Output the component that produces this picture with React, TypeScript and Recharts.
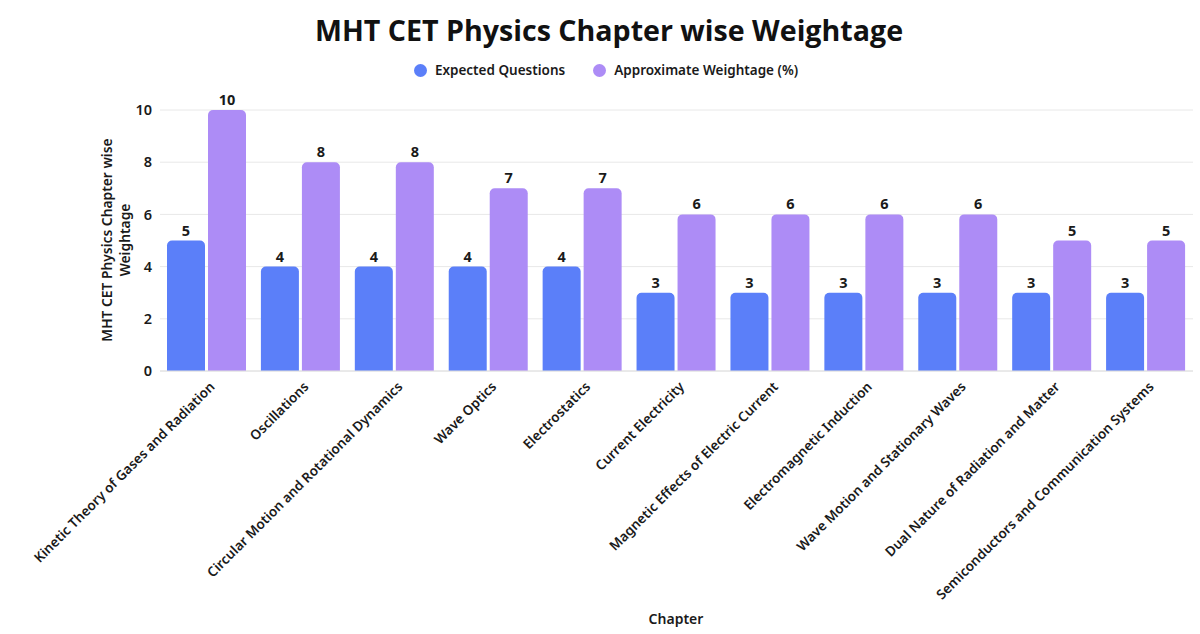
import React from "react"
import {
  BarChart,
  Bar,
  XAxis,
  YAxis,
  CartesianGrid,
  LabelList,
} from "recharts"

const chapters = [
  "Kinetic Theory of Gases and Radiation",
  "Oscillations",
  "Circular Motion and Rotational Dynamics",
  "Wave Optics",
  "Electrostatics",
  "Current Electricity",
  "Magnetic Effects of Electric Current",
  "Electromagnetic Induction",
  "Wave Motion and Stationary Waves",
  "Dual Nature of Radiation and Matter",
  "Semiconductors and Communication Systems",
]

const expectedQuestions = [5, 4, 4, 4, 4, 3, 3, 3, 3, 3, 3]
const approxWeightage = [10, 8, 8, 7, 7, 6, 6, 6, 6, 5, 5]
const yTicks = [0, 2, 4, 6, 8, 10]

const BLUE = "#5b7ff9"
const PURPLE = "#ad8cf6"
const FONT = "'Noto Sans', 'Open Sans', sans-serif"

const data = chapters.map((name, i) => ({
  name,
  expected: expectedQuestions[i],
  weightage: approxWeightage[i],
}))

function ChapterTick({ x, y, payload }: { x?: number; y?: number; payload?: { value: string } }) {
  const tx = (x ?? 0) + 6
  const ty = (y ?? 0) + 6
  return (
    <text
      x={tx}
      y={ty}
      transform={`rotate(-45, ${tx}, ${ty})`}
      textAnchor="end"
      dominantBaseline="middle"
      fontSize={13.5}
      fontWeight={600}
      fill="#1a1a1a"
      fontFamily={FONT}
    >
      {payload?.value}
    </text>
  )
}

function LegendRow() {
  const items = [
    { label: "Expected Questions", color: BLUE },
    { label: "Approximate Weightage (%)", color: PURPLE },
  ]
  return (
    <div
      style={{
        position: "absolute",
        top: 61,
        left: 0,
        width: 1212,
        display: "flex",
        justifyContent: "center",
        gap: 28,
        fontFamily: FONT,
      }}
    >
      {items.map((it) => (
        <div key={it.label} style={{ display: "flex", alignItems: "center", gap: 8 }}>
          <span style={{ width: 13, height: 13, borderRadius: "50%", background: it.color, display: "inline-block" }} />
          <span style={{ fontSize: 13.5, fontWeight: 600, color: "#1a1a1a" }}>{it.label}</span>
        </div>
      ))}
    </div>
  )
}

const valueLabel = { fontSize: 14.5, fontWeight: 700, fill: "#1a1a1a", fontFamily: FONT }

export default function App() {
  return (
    <div style={{ position: "absolute", top: 0, left: 0, width: 1200, height: 634, background: "#fff" }}>
      <div
        style={{
          position: "absolute",
          top: 10,
          left: 0,
          width: 1218,
          textAlign: "center",
          fontFamily: "'Open Sans', sans-serif",
          fontWeight: 700,
          fontSize: 28.6,
          color: "#111",
        }}
      >
        MHT CET Physics Chapter wise Weightage
      </div>
      <LegendRow />
      <BarChart
        width={1200}
        height={634}
        data={data}
        margin={{ top: 110, right: 7, left: 100, bottom: 0 }}
        barCategoryGap={7}
        barGap={3}
      >
        <CartesianGrid vertical={false} stroke="#e8e8e8" />
        <XAxis
          dataKey="name"
          interval={0}
          height={263}
          tick={<ChapterTick />}
          tickLine={false}
          axisLine={{ stroke: "#e0e0e0" }}
        />
        <YAxis
          width={60}
          domain={[0, 10]}
          ticks={yTicks}
          tickLine={false}
          axisLine={false}
          tick={{ fontSize: 14.5, fontWeight: 600, fill: "#1a1a1a", fontFamily: FONT }}
        />
        <Bar dataKey="expected" name="Expected Questions" fill={BLUE} radius={[5, 5, 0, 0]} isAnimationActive={false}>
          <LabelList dataKey="expected" position="top" offset={5} style={valueLabel} />
        </Bar>
        <Bar dataKey="weightage" name="Approximate Weightage (%)" fill={PURPLE} radius={[5, 5, 0, 0]} isAnimationActive={false}>
          <LabelList dataKey="weightage" position="top" offset={5} style={valueLabel} />
        </Bar>
        <text x={676} y={624} textAnchor="middle" fontSize={14} fontWeight={600} fill="#1a1a1a" fontFamily={FONT}>
          Chapter
        </text>
        <text
          transform="translate(112, 240) rotate(-90)"
          textAnchor="middle"
          fontSize={13.8}
          fontWeight={600}
          fill="#1a1a1a"
          fontFamily={FONT}
        >
          <tspan x={0} dy={0}>MHT CET Physics Chapter wise</tspan>
          <tspan x={0} dy={18}>Weightage</tspan>
        </text>
      </BarChart>
    </div>
  )
}
